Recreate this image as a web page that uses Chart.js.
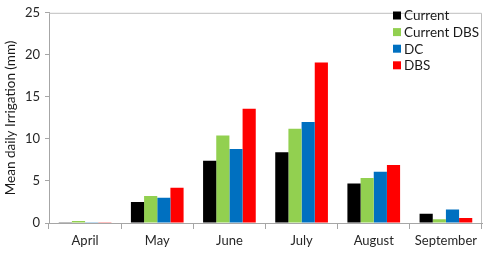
<!DOCTYPE html>
<html><head><meta charset="utf-8">
<script src="https://cdn.jsdelivr.net/npm/chart.js@4/dist/chart.umd.min.js"></script>
<style>html,body{margin:0;padding:0;background:#fff}#w{width:487px;height:256px}</style>
</head><body><div id="w"><canvas id="c"></canvas></div>
<script>
const categories = ["April","May","June","July","August","September"];
const seriesNames = ["Current","Current DBS","DC","DBS"];
const current = [0.1, 2.5, 7.4, 8.4, 4.7, 1.1];
const currentDBS = [0.25, 3.2, 10.4, 11.2, 5.35, 0.45];
const dc = [0.1, 3.0, 8.8, 12.0, 6.1, 1.6];
const dbs = [0.1, 4.2, 13.6, 19.1, 6.9, 0.6];
const yTicks = [0,5,10,15,20,25];
const colors = ["#000000","#92D050","#0070C0","#FF0000"];
const FONT = "Lato, 'Open Sans', sans-serif";

const frame = {
  id:'frame',
  afterDraw(chart){
    const {ctx, chartArea:a} = chart;
    ctx.save();
    ctx.strokeStyle = '#bfbfbf'; ctx.lineWidth = 1;
    ctx.beginPath();
    ctx.moveTo(a.left, a.top+0.5); ctx.lineTo(a.right-0.5, a.top+0.5); ctx.lineTo(a.right-0.5, a.bottom);
    ctx.stroke();
    // legend
    ctx.font = "13.5px " + FONT; ctx.textBaseline = 'middle';
    chart.data.datasets.forEach((d,i)=>{
      const y = 15.5 + i*16.6;
      ctx.fillStyle = d.backgroundColor;
      ctx.fillRect(393, y-4, 8, 8);
      ctx.fillStyle = '#1a1a1a';
      ctx.fillText(d.label, 404, y+0.5);
    });
    ctx.restore();
  }
};

new Chart(document.getElementById('c'), {
  type:'bar',
  data:{
    labels: categories,
    datasets:[
      {label:seriesNames[0], data:current, backgroundColor:colors[0]},
      {label:seriesNames[1], data:currentDBS, backgroundColor:colors[1]},
      {label:seriesNames[2], data:dc, backgroundColor:colors[2]},
      {label:seriesNames[3], data:dbs, backgroundColor:colors[3]}
    ]
  },
  options:{
    responsive:true, maintainAspectRatio:false, animation:false,
    devicePixelRatio:1,
    layout:{padding:{top:8,right:5,left:0,bottom:0}},
    datasets:{bar:{barPercentage:1, categoryPercentage:0.73}},
    plugins:{legend:{display:false}, tooltip:{enabled:false}},
    scales:{
      x:{
        grid:{offset:true, drawOnChartArea:false, drawTicks:true, tickLength:6, color:'#a6a6a6'},
        border:{color:'#a6a6a6'},
        ticks:{color:'#262626', font:{family:FONT, size:13}, padding:4, maxRotation:0},
        afterFit(s){ s.height = 33; }
      },
      y:{
        min:0, max:25,
        afterBuildTicks(s){ s.ticks = yTicks.map(v=>({value:v})); },
        grid:{drawOnChartArea:false, drawTicks:true, tickLength:4, color:'#a6a6a6'},
        border:{color:'#a6a6a6'},
        ticks:{color:'#262626', font:{family:FONT, size:13}, padding:5},
        title:{display:true, text:'Mean daily Irrigation (mm)', color:'#1a1a1a', font:{family:FONT, size:13.5}, padding:{top:3,bottom:2}},
        afterFit(s){ s.width = 49; }
      }
    }
  },
  plugins:[frame]
});
</script></body></html>
